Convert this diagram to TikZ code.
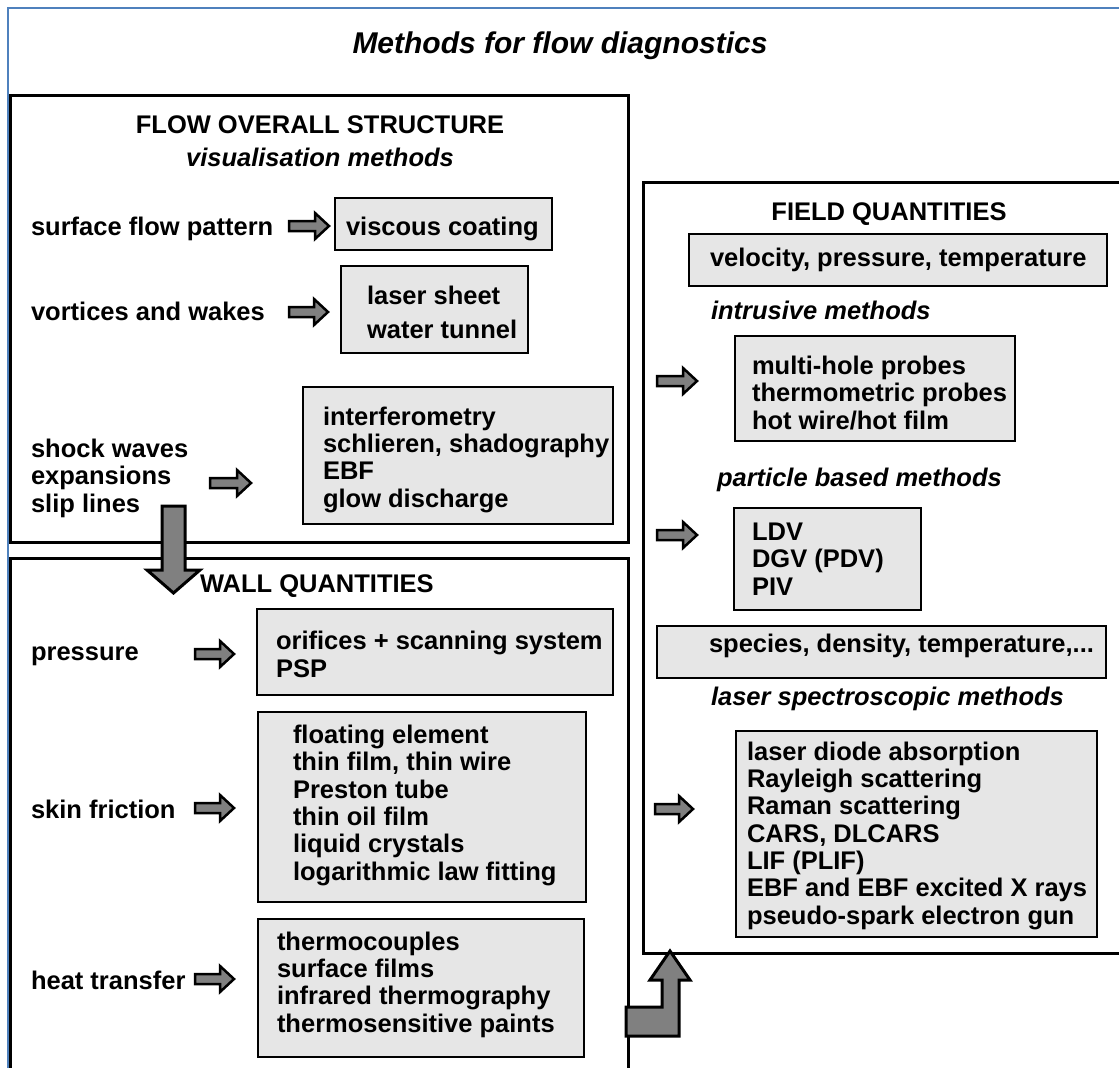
\documentclass[tikz,border=0pt]{standalone}
\usepackage{fontspec}
\setmainfont{Liberation Sans}[Ligatures=CommonOff]
\usetikzlibrary{fit}
\definecolor{frameblue}{HTML}{4F81BD}
\definecolor{boxgray}{HTML}{E6E6E6}
\definecolor{arrgray}{HTML}{808080}
\newcommand\blockarr[2]{%
  \draw[barr] (#1) ++(0,-5) -- ++({#2-14},0) -- ++(0,-8) -- ++(14,13) -- ++(-14,13) -- ++(0,-8) -- ++({-(#2-14)},0) -- cycle;}
\begin{document}
\begin{tikzpicture}[x=1pt,y=-1pt,
  every node/.style={inner sep=0pt, outer sep=0pt},
  lbl/.style={font=\bfseries\fontsize{25.5}{27.3}\selectfont, anchor=base west, align=left},
  ital/.style={font=\bfseries\itshape\fontsize{25.5}{27.3}\selectfont, anchor=base west},
  head/.style={font=\bfseries\fontsize{25.5}{27.3}\selectfont, anchor=base},
  gbox/.style={draw=black, line width=2.5pt, fill=boxgray},
  sect/.style={draw=black, line width=3pt},
  barr/.style={draw=black, line width=2.5pt, fill=arrgray, miter limit=10},
  bigarr/.style={draw=black, line width=3pt, fill=arrgray, miter limit=10}]
\useasboundingbox (0,0) rectangle (1119,1068);
\clip (0,0) rectangle (1119,1068);
\fill[white] (0,0) rectangle (1119,1068);
% frame and sections
\node[draw=frameblue, line width=2.5pt, fit={(8,8) (1160,1110)}] (frame) {};
\node[font=\bfseries\itshape\fontsize{30}{36}\selectfont, anchor=base] (title) at (560,53) {Methods for flow diagnostics};
\node[sect, fit={(10,95) (628,542)}] (boxA) {};
\node[sect, fit={(10,558) (628,1110)}] (boxB) {};
\node[sect, fit={(643,182) (1160,953)}] (boxC) {};
% flow overall structure (multi-line labels are placed by the baseline of their last line)
\node[head] (flowhead) at (320,133) {FLOW OVERALL STRUCTURE};
\node[head, font=\bfseries\itshape\fontsize{25.5}{27.3}\selectfont] (vismeth) at (320,166) {visualisation methods};
\node[lbl] (sfp) at (31,235) {surface flow pattern};
\node[gbox, fit={(335,198) (552,250)}] (vcbox) {};
\node[lbl] (vc) at (346,235) {viscous coating};
\node[lbl] (vw) at (31,320) {vortices and wakes};
\node[gbox, fit={(341,266) (528,353)}] (lsbox) {};
\node[lbl, font=\bfseries\fontsize{25.5}{34}\selectfont] (ls) at (367,338) {laser sheet\\water tunnel};
\node[lbl] (sw) at (31,512) {shock waves\\expansions\\slip lines};
\node[gbox, fit={(303,387) (613,524)}] (ifbox) {};
\node[lbl] (if) at (323,507) {interferometry\\schlieren, shadography\\EBF\\glow discharge};
% wall quantities
\node[lbl] (wq) at (200,592) {WALL QUANTITIES};
\node[lbl] (pr) at (31,660) {pressure};
\node[gbox, fit={(257,609) (613,695)}] (orbox) {};
\node[lbl] (or) at (276,677) {orifices + scanning system\\PSP};
\node[lbl] (sf) at (31,818) {skin friction};
\node[gbox, fit={(258,712) (586,902)}] (sfbox) {};
\node[lbl] (sfl) at (293,880) {floating element\\thin film, thin wire\\Preston tube\\thin oil film\\liquid crystals\\logarithmic law fitting};
\node[lbl] (ht) at (31,989) {heat transfer};
\node[gbox, fit={(258,919) (584,1057)}] (htbox) {};
\node[lbl] (htl) at (277,1032) {thermocouples\\surface films\\infrared thermography\\thermosensitive paints};
% field quantities
\node[head] (fq) at (889,220) {FIELD QUANTITIES};
\node[gbox, fit={(689,234) (1107,286)}] (vptbox) {};
\node[lbl] (vpt) at (710,266) {velocity, pressure, temperature};
\node[ital] (im) at (711,319) {intrusive methods};
\node[gbox, fit={(735,336) (1015,441)}] (imbox) {};
\node[lbl] (iml) at (752,429) {multi-hole probes\\thermometric probes\\hot wire/hot film};
\node[ital] (pb) at (717,486) {particle based methods};
\node[gbox, fit={(734,508) (921,610)}] (pbbox) {};
\node[lbl] (pbl) at (752,595) {LDV\\DGV (PDV)\\PIV};
\node[gbox, fit={(657,626) (1106,678)}] (spbox) {};
\node[lbl] (sp) at (709,652) {species, density, temperature,...};
\node[ital] (lsm) at (711,705) {laser spectroscopic methods};
\node[gbox, fit={(736,731) (1097,937)}] (lsmbox) {};
\node[lbl] (lsml) at (747,924) {laser diode absorption\\Rayleigh scattering\\Raman scattering\\CARS, DLCARS\\LIF (PLIF)\\EBF and EBF excited X rays\\pseudo-spark electron gun};
% small block arrows
\coordinate (a1) at (289,226);
\coordinate (a2) at (289,312);
\coordinate (a3) at (210,483);
\coordinate (a4) at (195,654);
\coordinate (a5) at (195,808);
\coordinate (a6) at (195,979);
\coordinate (a7) at (657,381);
\coordinate (a8) at (657,535);
\coordinate (a9) at (655,809);
\blockarr{a1}{40}
\blockarr{a2}{39}
\blockarr{a3}{41}
\blockarr{a4}{39}
\blockarr{a5}{39}
\blockarr{a6}{39}
\blockarr{a7}{40}
\blockarr{a8}{40}
\blockarr{a9}{38}
% big down arrow from structure to wall quantities
\coordinate (bigtop) at (173.5,506);
\draw[bigarr] (bigtop) ++(-11.5,0) -- ++(0,64) -- ++(-15,0) -- ++(26.5,23) -- ++(26.5,-23) -- ++(-15,0) -- ++(0,-64) -- cycle;
% L-shaped arrow from wall quantities to field quantities
\coordinate (lstart) at (626,1036);
\draw[bigarr] (lstart) -- ++(0,-29) -- ++(36,0) -- ++(0,-27) -- ++(-12,0) -- ++(20,-29) -- ++(20,29) -- ++(-11,0) -- ++(0,56) -- cycle;
\end{tikzpicture}
\end{document}
